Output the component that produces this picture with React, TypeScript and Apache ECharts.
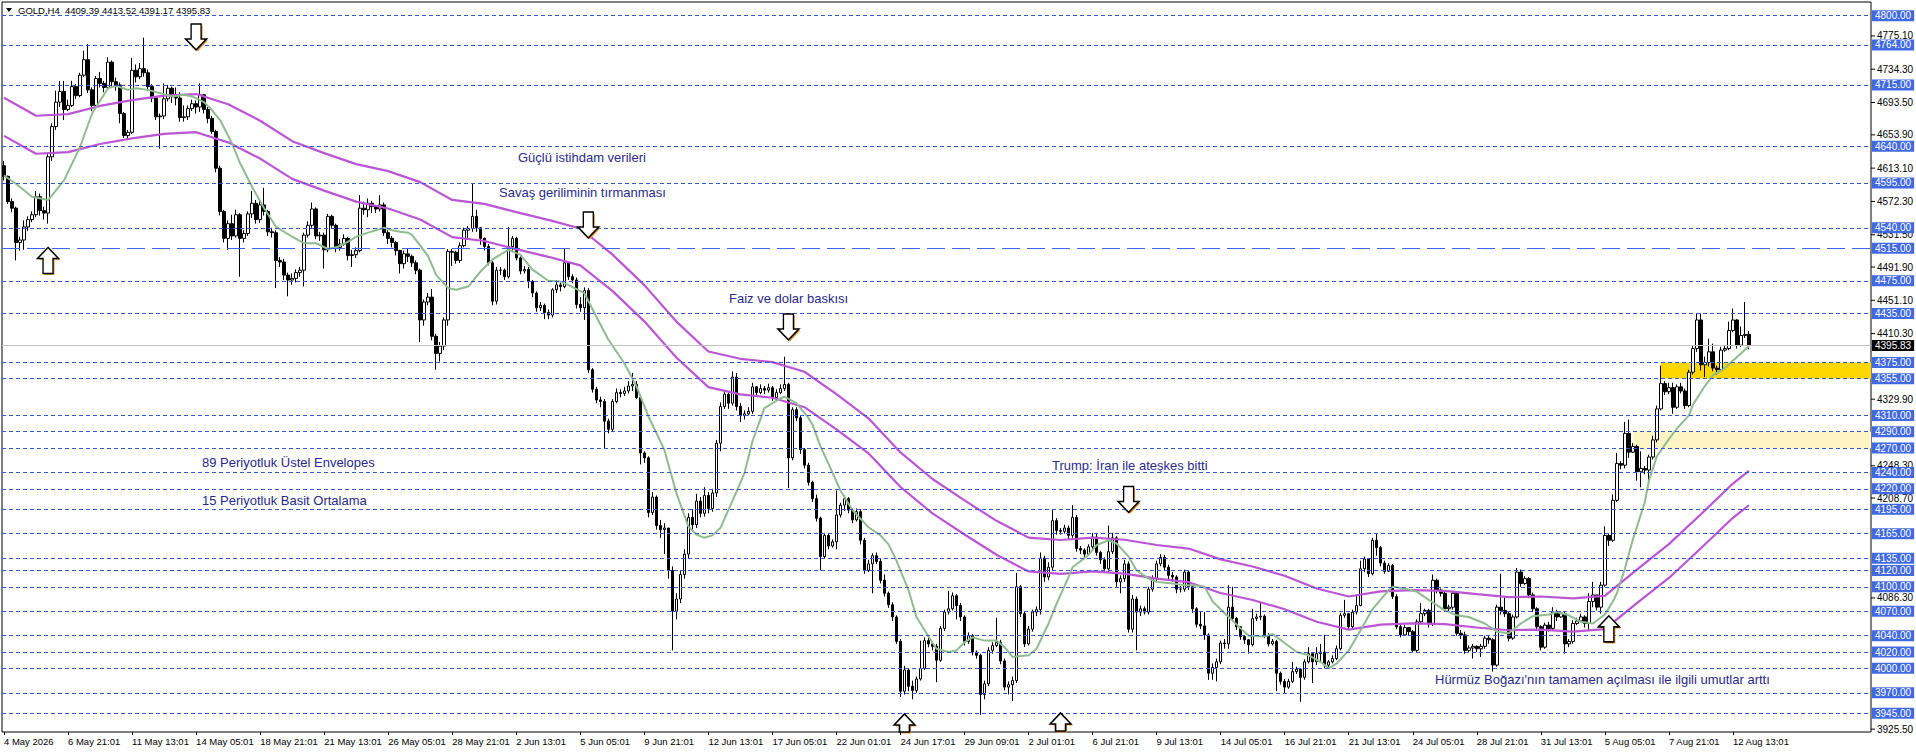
import React, { useEffect, useRef } from 'react';
import * as echarts from 'echarts';

// ---------- DATA ----------
const timeLabels = [
  '4 May 2026', '6 May 21:01', '11 May 13:01', '14 May 05:01', '18 May 21:01', '21 May 13:01',
  '26 May 05:01', '28 May 21:01', '2 Jun 13:01', '5 Jun 05:01', '9 Jun 21:01', '12 Jun 13:01',
  '17 Jun 05:01', '22 Jun 01:01', '24 Jun 17:01', '29 Jun 09:01', '2 Jul 01:01', '6 Jul 21:01',
  '9 Jul 13:01', '14 Jul 05:01', '16 Jul 21:01', '21 Jul 13:01', '24 Jul 05:01', '28 Jul 21:01',
  '31 Jul 13:01', '5 Aug 05:01', '7 Aug 21:01', '12 Aug 13:01',
];
const LABEL_STEP = 16;
const TOTAL_SLOTS = 467;

const opens = [
  4616,4603,4572,4564,4522,4525,4541,4550,4556,4578,4561,4558,4627,4664,4694,4707,
  4685,4690,4713,4702,4727,4746,4709,4690,4723,4717,4712,4743,4719,4715,4680,4653,
  4657,4733,4725,4735,4730,4713,4699,4676,4677,4698,4711,4701,4699,4675,4676,4686,
  4692,4688,4703,4685,4674,4658,4613,4560,4527,4545,4530,4556,4527,4533,4557,4570,
  4550,4568,4560,4535,4534,4500,4498,4482,4476,4478,4485,4488,4531,4543,4563,4530,
  4531,4513,4554,4543,4516,4520,4527,4506,4507,4512,4564,4562,4570,4566,4563,4568,
  4534,4527,4522,4512,4496,4508,4505,4497,4488,4427,4449,4455,4407,4386,4395,4427,
  4511,4510,4500,4518,4537,4539,4554,4540,4527,4517,4497,4450,4488,4488,4480,4517,
  4527,4503,4487,4489,4474,4460,4442,4445,4436,4433,4464,4470,4468,4497,4480,4476,
  4446,4442,4463,4366,4342,4329,4327,4303,4293,4327,4338,4337,4340,4346,4348,4332,
  4264,4258,4191,4210,4175,4170,4172,4120,4070,4085,4115,4140,4185,4176,4205,4190,
  4212,4196,4215,4276,4321,4336,4325,4357,4321,4310,4312,4315,4345,4338,4343,4341,
  4344,4332,4338,4343,4348,4258,4317,4307,4268,4249,4228,4208,4184,4137,4163,4150,
  4155,4188,4200,4208,4194,4182,4192,4157,4120,4128,4138,4131,4108,4092,4078,4063,
  4033,3972,3998,3978,3973,3987,4000,4034,4030,4027,4010,4049,4069,4073,4089,4077,
  4063,4033,4040,4020,4016,3968,3981,4022,4028,4032,4009,3977,3980,3985,4100,4067,
  4030,4048,4069,4072,4135,4112,4124,4181,4169,4168,4172,4163,4185,4147,4145,4140,
  4149,4161,4142,4133,4122,4143,4160,4106,4110,4128,4048,4085,4069,4073,4069,4097,
  4110,4128,4136,4124,4114,4112,4097,4097,4118,4100,4073,4054,4052,4041,3994,4001,
  4008,4031,4030,4075,4061,4051,4039,4035,4029,4061,4063,4064,4040,4030,4033,3994,
  3984,3977,3984,3996,3999,3989,4008,4018,4008,4018,4020,4004,4008,4012,4024,4065,
  4067,4051,4069,4077,4122,4134,4116,4157,4148,4129,4119,4126,4088,4051,4041,4050,
  4045,4022,4057,4067,4071,4055,4108,4096,4092,4073,4075,4092,4043,4041,4022,4025,
  4027,4024,4027,4037,4035,4004,4075,4071,4067,4037,4063,4118,4104,4110,4090,4073,
  4051,4026,4053,4049,4069,4063,4067,4030,4033,4055,4058,4063,4055,4082,4090,4075,
  4102,4163,4157,4206,4251,4249,4288,4265,4272,4241,4245,4243,4259,4280,4318,4349,
  4339,4344,4320,4345,4340,4322,4363,4392,4427,4372,4375,4388,4368,4366,4390,4392,
  4414,4427,4396,4408,4409.39,
];
const closes = [
  4603,4572,4564,4522,4525,4541,4550,4556,4578,4561,4558,4627,4664,4694,4707,4685,
  4690,4713,4702,4727,4746,4709,4690,4723,4717,4712,4743,4719,4715,4680,4653,4657,
  4733,4725,4735,4730,4713,4699,4676,4677,4698,4711,4701,4699,4675,4676,4686,4692,
  4688,4703,4685,4674,4658,4613,4560,4527,4545,4530,4556,4527,4533,4557,4570,4550,
  4568,4560,4535,4534,4500,4498,4482,4476,4478,4485,4488,4531,4543,4563,4530,4531,
  4513,4554,4543,4516,4520,4527,4506,4507,4512,4564,4562,4570,4566,4563,4568,4534,
  4527,4522,4512,4496,4508,4505,4497,4488,4427,4449,4455,4407,4386,4395,4427,4511,
  4510,4500,4518,4537,4539,4554,4540,4527,4517,4497,4450,4488,4488,4480,4517,4527,
  4503,4487,4489,4474,4460,4442,4445,4436,4433,4464,4470,4468,4497,4480,4476,4446,
  4442,4463,4366,4342,4329,4327,4303,4293,4327,4338,4337,4340,4346,4348,4332,4264,
  4258,4191,4210,4175,4170,4172,4120,4070,4085,4115,4140,4185,4176,4205,4190,4212,
  4196,4215,4276,4321,4336,4325,4357,4321,4310,4312,4315,4345,4338,4343,4341,4344,
  4332,4338,4343,4348,4258,4317,4307,4268,4249,4228,4208,4184,4137,4163,4150,4155,
  4188,4200,4208,4194,4182,4192,4157,4120,4128,4138,4131,4108,4092,4078,4063,4033,
  3972,3998,3978,3973,3987,4000,4034,4030,4027,4010,4049,4069,4073,4089,4077,4063,
  4033,4040,4020,4016,3968,3981,4022,4028,4032,4009,3977,3980,3985,4100,4067,4030,
  4048,4069,4072,4135,4112,4124,4181,4169,4168,4172,4163,4185,4147,4145,4140,4149,
  4161,4142,4133,4122,4143,4160,4106,4110,4128,4048,4085,4069,4073,4069,4097,4110,
  4128,4136,4124,4114,4112,4097,4097,4118,4100,4073,4054,4052,4041,3994,4001,4008,
  4031,4030,4075,4061,4051,4039,4035,4029,4061,4063,4064,4040,4030,4033,3994,3984,
  3977,3984,3996,3999,3989,4008,4018,4008,4018,4020,4004,4008,4012,4024,4065,4067,
  4051,4069,4077,4122,4134,4116,4157,4148,4129,4119,4126,4088,4051,4041,4050,4045,
  4022,4057,4067,4071,4055,4108,4096,4092,4073,4075,4092,4043,4041,4022,4025,4027,
  4024,4027,4037,4035,4004,4075,4071,4067,4037,4063,4118,4104,4110,4090,4073,4051,
  4026,4053,4049,4069,4063,4067,4030,4033,4055,4058,4063,4055,4082,4090,4075,4102,
  4163,4157,4206,4251,4249,4288,4265,4272,4241,4245,4243,4259,4280,4318,4349,4339,
  4344,4320,4345,4340,4322,4363,4392,4427,4372,4375,4388,4368,4366,4390,4392,4414,
  4427,4396,4408,4409.39,4395.83,
];
const highs = [
  4622,4604,4576,4566,4529,4549,4554,4560,4585,4582,4566,4631,4668,4708,4720,4720,
  4697,4720,4716,4730,4757,4765,4712,4726,4731,4720,4749,4745,4724,4718,4682,4660,
  4748,4740,4742,4773,4734,4716,4701,4680,4717,4715,4713,4712,4706,4690,4690,4697,
  4696,4717,4704,4688,4677,4660,4616,4562,4549,4556,4562,4558,4537,4560,4585,4574,
  4573,4589,4562,4540,4537,4504,4502,4485,4484,4489,4492,4534,4548,4571,4565,4535,
  4534,4557,4556,4545,4526,4532,4529,4513,4516,4580,4572,4576,4573,4566,4580,4571,
  4537,4530,4524,4513,4512,4514,4507,4500,4490,4452,4460,4465,4410,4400,4430,4514,
  4514,4512,4522,4540,4542,4594,4562,4541,4528,4520,4499,4492,4492,4490,4541,4530,
  4529,4505,4493,4492,4476,4462,4449,4447,4440,4466,4476,4473,4515,4498,4483,4479,
  4455,4467,4466,4368,4345,4333,4330,4306,4330,4343,4342,4345,4352,4362,4352,4335,
  4266,4260,4216,4212,4182,4178,4172,4125,4092,4120,4146,4190,4195,4214,4210,4222,
  4216,4220,4280,4326,4340,4340,4364,4362,4325,4316,4320,4350,4346,4348,4346,4349,
  4346,4342,4348,4382,4350,4320,4320,4310,4270,4252,4230,4213,4186,4166,4166,4158,
  4218,4203,4212,4210,4196,4196,4195,4160,4133,4141,4142,4134,4115,4094,4081,4065,
  4036,4003,4000,3985,3990,4034,4038,4040,4032,4030,4052,4072,4095,4093,4091,4080,
  4065,4044,4042,4022,4018,3985,4026,4032,4062,4035,4012,3984,3990,4117,4102,4070,
  4052,4072,4076,4142,4138,4130,4194,4184,4172,4176,4175,4200,4188,4150,4147,4152,
  4166,4166,4144,4136,4175,4166,4162,4114,4133,4131,4090,4088,4077,4076,4100,4114,
  4132,4140,4139,4127,4118,4114,4101,4121,4120,4102,4075,4070,4069,4043,4006,4012,
  4034,4036,4102,4100,4063,4052,4040,4036,4073,4067,4080,4066,4043,4036,4035,3996,
  3987,3987,4008,4002,4000,4011,4026,4020,4026,4030,4041,4010,4016,4028,4068,4084,
  4068,4072,4090,4132,4137,4135,4160,4165,4150,4132,4129,4128,4091,4053,4053,4050,
  4047,4060,4080,4073,4073,4115,4110,4098,4094,4078,4095,4093,4047,4045,4028,4030,
  4028,4030,4040,4040,4037,4078,4116,4088,4069,4066,4123,4121,4113,4112,4093,4075,
  4053,4056,4057,4075,4072,4070,4070,4036,4059,4062,4067,4065,4092,4106,4090,4106,
  4174,4166,4213,4264,4254,4302,4305,4276,4274,4266,4248,4262,4285,4322,4371,4352,
  4350,4350,4348,4350,4343,4366,4396,4435,4435,4382,4404,4398,4371,4394,4395,4425,
  4441,4428,4419,4449,4413.52,
];
const lows = [
  4598,4569,4559,4500,4512,4513,4536,4547,4553,4555,4550,4545,4622,4660,4688,4672,
  4683,4688,4698,4700,4725,4705,4683,4688,4712,4706,4710,4712,4708,4668,4650,4649,
  4655,4718,4722,4725,4708,4694,4672,4637,4673,4695,4693,4690,4670,4670,4672,4683,
  4680,4682,4680,4668,4655,4608,4555,4522,4513,4525,4528,4480,4522,4530,4552,4545,
  4546,4555,4530,4528,4466,4492,4476,4456,4470,4473,4480,4468,4528,4540,4526,4524,
  4490,4510,4540,4510,4512,4518,4500,4492,4503,4510,4556,4553,4558,4558,4560,4530,
  4520,4516,4506,4484,4490,4498,4492,4483,4400,4420,4445,4402,4366,4376,4390,4420,
  4493,4496,4497,4516,4526,4535,4535,4519,4512,4494,4445,4446,4482,4476,4478,4512,
  4500,4483,4484,4466,4455,4437,4438,4428,4428,4430,4460,4462,4466,4476,4472,4441,
  4437,4427,4362,4338,4325,4320,4270,4288,4290,4325,4332,4334,4337,4340,4330,4250,
  4252,4185,4188,4170,4160,4140,4110,4022,4060,4080,4110,4135,4168,4172,4185,4186,
  4190,4192,4210,4266,4318,4318,4322,4316,4302,4305,4310,4312,4333,4336,4336,4338,
  4328,4330,4336,4340,4221,4255,4303,4263,4245,4224,4204,4180,4120,4134,4146,4148,
  4146,4185,4193,4190,4178,4180,4152,4116,4118,4092,4128,4104,4088,4074,4058,4030,
  3965,3968,3972,3962,3970,3985,3998,4026,4022,3983,4008,4046,4066,4071,4060,4058,
  4028,4030,4016,4012,3943,3962,3978,4018,4026,4005,3973,3968,3960,3982,4063,4026,
  4028,4045,4064,4066,4106,4108,4120,4164,4164,4165,4158,4160,4143,4140,4136,4138,
  4146,4138,4128,4118,4118,4140,4100,4092,4106,4044,4044,4022,4064,4066,4066,4094,
  4106,4125,4120,4108,4106,4092,4093,4094,4096,4068,4050,4048,4035,3986,3986,3984,
  4005,4024,4024,4058,4047,4035,4030,4018,4027,4058,4059,4037,4027,4028,3972,3980,
  3969,3975,3982,3993,3959,3986,4006,3982,4004,4008,4000,4000,4006,4010,4022,4062,
  4047,4049,4066,4076,4118,4112,4114,4138,4125,4116,4118,4085,4048,4038,4040,4040,
  4020,4020,4055,4064,4050,4052,4092,4088,4069,4070,4072,4040,4036,4018,4020,4012,
  4020,4014,4024,4030,3996,4002,4066,4063,4033,4035,4061,4100,4102,4086,4069,4047,
  4022,4024,4045,4047,4058,4062,4018,4026,4030,4053,4056,4050,4047,4075,4071,4067,
  4100,4150,4155,4204,4244,4245,4258,4264,4230,4222,4238,4228,4256,4277,4316,4335,
  4336,4312,4318,4337,4318,4320,4360,4388,4365,4357,4370,4364,4360,4364,4388,4390,
  4412,4392,4394,4405,4391.17,
];

// 15-period simple moving average at these bars
const smaBars = [
  0,3,7,11,15,19,22,26,28,31,33,36,39,42,45,47,50,52,54,57,59,62,65,68,72,75,78,81,83,86,88,91,95,97,99,101,
  102,104,106,108,111,113,116,119,122,126,129,132,136,139,141,145,148,151,155,158,161,165,168,171,173,175,177,
  179,182,185,187,190,194,195,198,201,202,204,206,209,212,216,219,221,223,226,228,231,233,236,238,240,242,245,
  248,250,252,256,258,261,263,266,267,271,273,276,278,281,283,286,288,292,295,297,300,302,306,309,311,315,317,
  320,323,326,329,331,333,336,339,342,346,347,350,353,356,360,363,366,370,373,376,379,382,386,388,391,394,397,
  400,402,403,405,407,410,411,413,416,418,421,422,425,427,430,432,434,436,
];
const smaValues = [
  4604,4594,4578,4574,4598,4639,4680,4711,4714,4709,4711,4709,4705,4701,4703,4701,4694,4684,4672,4643,4619,4590,
  4564,4541,4529,4521,4521,4514,4516,4523,4529,4534,4540,4537,4535,4534,
  4531,4518,4505,4482,4466,4464,4468,4486,4501,4513,4507,4489,4475,4474,4470,4460,4431,4403,4374,4346,4309,4268,
  4215,4174,4164,4160,4163,
  4172,4205,4239,4278,4319,4331,4333,4325,4307,4299,4272,4251,4218,4194,4173,4163,4152,4132,4096,4063,4039,4024,
  4020,4022,4032,4038,4034,
  4034,4026,4014,4016,4024,4055,4079,4112,4124,4139,4151,4157,4153,4137,4120,4110,4106,4104,4102,4102,4100,4082,
  4063,4049,4040,4039,4042,
  4031,4020,4016,4008,4000,4006,4022,4047,4073,4096,4100,4098,4094,4084,4071,4065,4063,4055,4045,4043,4055,4064,
  4066,4069,4065,4057,4055,
  4066,4082,4092,4122,4158,4204,4230,4260,4281,4294,4310,4323,4346,4359,4368,4377,4386,4395,
];

// 89-period exponential envelopes (upper / lower band), read every 8 bars
const envBars = [
  0,8,16,24,32,40,48,56,64,72,80,88,96,104,112,120,128,136,144,152,160,168,176,184,192,200,208,216,
  224,232,240,248,256,264,272,280,288,296,304,312,320,328,336,344,352,360,368,376,384,392,400,408,416,424,432,436,
];
const envUpper = [
  4699.4,4677.3,4679.3,4689.3,4696.4,4701.9,4703.9,4691.3,4671.2,4646.1,4631.5,4618.0,4609.4,4595.9,
  4574.1,4569.2,4559.2,4549.6,4539.1,4507.4,4469.7,4425.0,4388.3,4379.4,4375.3,4363.5,4336.1,4306.4,
  4264.7,4232.1,4205.9,4180.8,4160.2,4157.3,4160.2,4157.6,4151.2,4146.8,4133.6,4124.8,4113.5,4097.9,
  4088.1,4094.4,4096.0,4094.9,4090.9,4087.3,4088.1,4085.7,4088.8,4121.0,4152.2,4188.8,4226.5,4242.1,
];
const envLower = [
  4652.6,4630.7,4632.7,4642.7,4649.6,4655.1,4657.1,4644.7,4624.8,4599.9,4585.5,4572.0,4563.6,4550.1,
  4528.5,4523.8,4513.8,4504.4,4493.9,4462.6,4425.3,4381.0,4344.7,4335.8,4331.7,4320.1,4292.9,4263.6,
  4222.3,4189.9,4164.1,4139.2,4118.8,4115.9,4118.8,4116.2,4109.9,4105.6,4092.4,4083.8,4072.5,4057.1,
  4047.5,4053.6,4055.2,4054.1,4050.1,4046.7,4047.5,4045.1,4048.2,4080.0,4110.8,4147.2,4184.5,4199.9,
];

// horizontal levels
const levelPrices = [
  4800, 4764, 4715, 4640, 4595, 4540, 4475, 4435, 4375, 4355, 4310, 4290, 4270, 4240, 4220, 4195,
  4165, 4135, 4120, 4100, 4070, 4040, 4020, 4000, 3970, 3945,
];
const keyLevel = 4515;
const bidPrice = 4395.83;
// price-scale labels that stay readable beside the level boxes
const scaleLabels = [
  4775.1, 4734.3, 4693.5, 4653.9, 4613.1, 4572.3, 4531.5, 4491.9, 4451.1, 4410.3,
  4329.9, 4248.3, 4208.7, 4086.3, 3925.5,
];
const PRICE_MIN = 3922;
const PRICE_MAX = 4816.7;

// zones (rectangles)
const zoneStartBars = [414, 407];
const zoneHighs = [4375, 4290];
const zoneLows = [4355, 4270];

// arrows
const arrowBars = [48, 146, 196, 281, 11, 225, 264, 401];
const arrowPrices = [4773.8, 4543.4, 4418.4, 4207, 4499.9, 3933.1, 3934.3, 4048.3];
const arrowKinds = ['down', 'down', 'down', 'down', 'up', 'upCut', 'upCut', 'up'];

// texts
const headerText = 'GOLD,H4  4409.39 4413.52 4391.17 4395.83';
const annotationTexts = [
  'Güçlü istihdam verileri',
  'Savaş geriliminin tırmanması',
  'Faiz ve dolar baskısı',
  '89 Periyotluk Üstel Envelopes',
  '15 Periyotluk Basit Ortalama',
  'Trump: İran ile ateşkes bitti',
  "Hürmüz Boğazı'nın tamamen açılması ile ilgili umutlar arttı",
];

// ---------- CHART ----------
const FONT = '"Liberation Sans", Arial, sans-serif';
const TEXT_POS = [
  [518, 157], [499, 192], [729, 298], [202, 462], [202, 500], [1052, 465], [1435, 679],
];
const ZONE_COLORS = ['#FFD700', '#FFF4C4'];
const SHAPES: Record<string, { path: string; size: number[] }> = {
  down: { path: 'path://M5.5 0L15.5 0L15.5 15L21 15L10.5 26L0 15L5.5 15Z', size: [21, 26] },
  up: { path: 'path://M10.5 0L21 11L15.5 11L15.5 26L5.5 26L5.5 11L0 11Z', size: [21, 26] },
  upCut: { path: 'path://M10.5 0L21 11L15.5 11L15.5 18L5.5 18L5.5 11L0 11Z', size: [21, 18] },
};

export default function App() {
  const ref = useRef<HTMLDivElement>(null);

  useEffect(() => {
    const chart = echarts.init(ref.current!, null, { renderer: 'svg' });

    const categories = Array.from({ length: TOTAL_SLOTS }, (_, i) => String(i));
    const candles = opens.map((o, i) => [o, closes[i], lows[i], highs[i]]);
    const sma = smaBars.map((b, i) => [b, smaValues[i]]);
    const upper = envBars.map((b, i) => [b, envUpper[i]]);
    const lower = envBars.map((b, i) => [b, envLower[i]]);
    const showTick = (i: number) => i % LABEL_STEP === 0 && i / LABEL_STEP < timeLabels.length;

    const arrowShadow = arrowBars.map((b, i) => ({
      coord: [b, arrowPrices[i]],
      symbol: SHAPES[arrowKinds[i]].path,
      symbolSize: SHAPES[arrowKinds[i]].size,
      symbolOffset: [1.5, 1.5],
      itemStyle: { color: '#EE9A2E', borderWidth: 0 },
    }));
    const arrowMain = arrowBars.map((b, i) => ({
      coord: [b, arrowPrices[i]],
      symbol: SHAPES[arrowKinds[i]].path,
      symbolSize: SHAPES[arrowKinds[i]].size,
      itemStyle: { color: '#FFFFFF', borderColor: '#000000', borderWidth: 1.5 },
    }));

    const boxLabel = {
      show: true,
      position: 'end',
      distance: 1,
      backgroundColor: '#4169E1',
      color: '#FFFFFF',
      padding: [1, 3, 0, 3],
      lineHeight: 10,
      fontSize: 10,
      fontFamily: FONT,
    };

    const option: any = {
      animation: false,
      backgroundColor: '#FFFFFF',
      grid: {
        left: 2, top: 2, right: 45, bottom: 21,
        show: true, borderColor: '#000000', borderWidth: 1, backgroundColor: '#FFFFFF',
      },
      xAxis: {
        type: 'category',
        data: categories,
        boundaryGap: true,
        axisLine: { show: false },
        axisTick: {
          show: true, alignWithLabel: true, interval: showTick, length: 3,
          lineStyle: { color: '#000000' },
        },
        axisLabel: {
          show: true,
          interval: showTick,
          formatter: (_v: string, i: number) => timeLabels[i / LABEL_STEP] ?? '',
          align: 'left',
          margin: 4,
          fontSize: 9.5,
          fontFamily: FONT,
          color: '#000000',
        },
        splitLine: { show: false },
      },
      yAxis: {
        type: 'value',
        position: 'right',
        min: PRICE_MIN,
        max: PRICE_MAX,
        axisLine: { show: false },
        axisTick: { show: false },
        axisLabel: { show: false },
        splitLine: { show: false },
      },
      graphic: [
        { type: 'polygon', shape: { points: [[6, 8], [12, 8], [9, 12]] }, style: { fill: '#000000' }, z: 100 },
        {
          type: 'text', x: 18, y: 10, z: 100,
          style: {
            text: headerText, fill: '#000000', fontSize: 9.5, fontFamily: FONT,
            verticalAlign: 'middle', textVerticalAlign: 'middle',
          },
        },
        ...annotationTexts.map((t, i) => ({
          type: 'text', x: TEXT_POS[i][0], y: TEXT_POS[i][1], z: 100,
          style: {
            text: t, fill: '#2A2A8A', fontSize: 13, fontFamily: FONT,
            verticalAlign: 'middle', textVerticalAlign: 'middle',
          },
        })),
      ],
      series: [
        {
          type: 'line', data: [], z: 1, silent: true,
          markArea: {
            silent: true, z: 1,
            data: zoneStartBars.map((s, i) => [
              { xAxis: s, yAxis: zoneHighs[i], itemStyle: { color: ZONE_COLORS[i], opacity: 1 } },
              { yAxis: zoneLows[i] },
            ]),
          },
        },
        {
          type: 'candlestick', data: candles, z: 2, barWidth: 3, silent: true,
          itemStyle: {
            color: '#FFFFFF', color0: '#000000', borderColor: '#000000', borderColor0: '#000000',
            borderColorDoji: '#000000', borderWidth: 1,
          },
        },
        {
          type: 'line', data: upper, z: 3, symbol: 'none', showSymbol: false, silent: true,
          lineStyle: { color: '#BA55D3', width: 2.2 },
        },
        {
          type: 'line', data: lower, z: 3, symbol: 'none', showSymbol: false, silent: true,
          lineStyle: { color: '#BA55D3', width: 2.2 },
        },
        {
          type: 'line', data: sma, z: 3, symbol: 'none', showSymbol: false, silent: true,
          lineStyle: { color: '#8FBC8F', width: 2 },
        },
        {
          type: 'line', data: [], silent: true,
          markLine: {
            silent: true, z: 4, symbol: ['none', 'none'],
            lineStyle: { color: 'rgba(0,0,0,0)', width: 1, type: 'solid' },
            label: {
              show: true, position: 'end', distance: 0, color: '#000000',
              fontSize: 10, fontFamily: FONT,
              rich: {
                t: { width: 4, height: 1, backgroundColor: '#000000', verticalAlign: 'middle' },
                v: { padding: [0, 0, 0, 2], fontSize: 10, fontFamily: FONT, color: '#000000', verticalAlign: 'middle' },
              },
            },
            data: scaleLabels.map((v) => ({ yAxis: v, label: { formatter: '{t|}{v|' + v.toFixed(2) + '}' } })),
          },
        },
        {
          type: 'line', data: [], silent: true,
          markLine: {
            silent: true, z: 5, symbol: ['none', 'none'],
            lineStyle: { color: '#3355DD', type: [4, 3], width: 1 },
            label: boxLabel,
            data: levelPrices.map((v) => ({ yAxis: v, label: { formatter: v.toFixed(2) } })),
          },
        },
        {
          type: 'line', data: [], silent: true,
          markLine: {
            silent: true, z: 5, symbol: ['none', 'none'],
            lineStyle: { color: '#3C64E6', type: [18, 7], width: 1 },
            label: boxLabel,
            data: [{ yAxis: keyLevel, label: { formatter: keyLevel.toFixed(2) } }],
          },
        },
        {
          type: 'line', data: [], silent: true,
          markLine: {
            silent: true, z: 6, symbol: ['none', 'none'],
            lineStyle: { color: '#C0C0C0', type: 'solid', width: 1 },
            label: { ...boxLabel, backgroundColor: '#000000' },
            data: [{ yAxis: bidPrice, label: { formatter: bidPrice.toFixed(2) } }],
          },
        },
        {
          type: 'line', data: [], silent: true,
          markPoint: {
            silent: true, z: 7,
            label: { show: false },
            data: [...arrowShadow, ...arrowMain],
          },
        },
      ],
    };

    chart.setOption(option);
    return () => chart.dispose();
  }, []);

  return (
    <div
      ref={ref}
      style={{ position: 'absolute', left: 0, top: 0, width: 1916, height: 753, background: '#FFFFFF' }}
    />
  );
}
